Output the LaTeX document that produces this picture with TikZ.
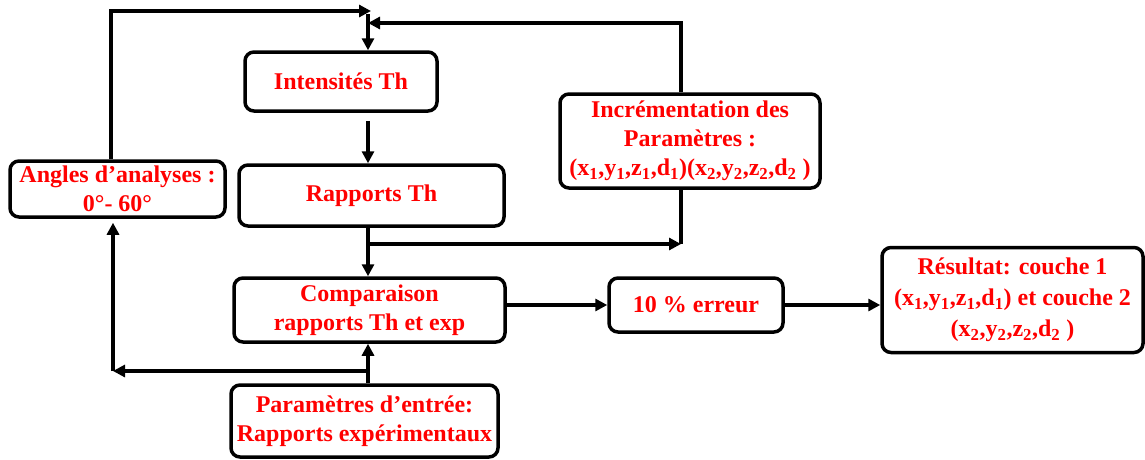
\documentclass[tikz,border=0pt]{standalone}
\usepackage{fontspec}
\setmainfont{Liberation Serif}
\usetikzlibrary{arrows.meta}
\tikzset{
  box/.style={draw, line width=3.5pt, rounded corners=9pt, inner sep=0pt,
    font=\bfseries\fontsize{24}{29}\selectfont, text=red, align=center},
  conn/.style={line width=3.2pt},
  arr/.style={conn, -{Triangle[length=12pt,width=12pt]}}
}
\begin{document}
\begin{tikzpicture}[x=1pt,y=-1pt]
\useasboundingbox (0,0) rectangle (1145,459);
\node[box, minimum width=192, minimum height=59] (I) at (341,81.5) {Intensités Th};
\node[box, minimum width=265, minimum height=61] (R) at (371.5,195.5) {Rapports Th};
\node[box, minimum width=260, minimum height=94] (N) at (690,141) {Incrémentation des\\Paramètres :\\(x\textsubscript{1},y\textsubscript{1},z\textsubscript{1},d\textsubscript{1})(x\textsubscript{2},y\textsubscript{2},z\textsubscript{2},d\textsubscript{2} )};
\node[box, minimum width=215, minimum height=56] (A) at (117.5,189) {Angles d’analyses :\\0°- 60°};
\node[box, minimum width=271, minimum height=64] (C) at (369.5,310) {Comparaison\\rapports Th et exp};
\node[box, minimum width=174, minimum height=54] (E) at (696,305) {10 \% erreur};
\node[box, minimum width=261, minimum height=105, font=\bfseries\fontsize{24}{31}\selectfont] (S) at (1012.5,300) {Résultat: couche 1\\(x\textsubscript{1},y\textsubscript{1},z\textsubscript{1},d\textsubscript{1}) et couche 2\\(x\textsubscript{2},y\textsubscript{2},z\textsubscript{2},d\textsubscript{2} )};
\node[box, minimum width=267, minimum height=72] (P) at (364.5,421) {Paramètres d’entrée:\\Rapports expérimentaux};
\coordinate (t1) at (111,11);
\coordinate (j1) at (371,11);
\coordinate (t2) at (681,23);
\coordinate (j2) at (368,23);
\coordinate (m) at (368,14);
\coordinate (b) at (368,244);
\coordinate (t3) at (681,244);
\coordinate (b2) at (368,371);
\coordinate (t4) at (113,371);
\draw[arr] (A.north -| t1) -- (t1) -- (j1);
\draw[arr] (N.north -| t2) -- (t2) -- (j2);
\draw[arr] (m) -- (I.north -| m);
\draw[arr] ([yshift=-8pt]I.south -| m) -- (R.north -| m);
\draw[arr] (R.south -| m) -- (C.north -| m);
\draw[arr] (b) -- (t3);
\draw[conn] (t3) -- (N.south -| t3);
\draw[arr] (E.west -| C.east) -- (E.west);
\draw[arr] (E.east) -- (S.west |- E.east);
\draw[arr] (P.north -| m) -- (C.south -| m);
\draw[arr] (b2) -- (t4);
\draw[arr, shorten >=4pt] (t4) -- (A.south -| t4);
\end{tikzpicture}
\end{document}
